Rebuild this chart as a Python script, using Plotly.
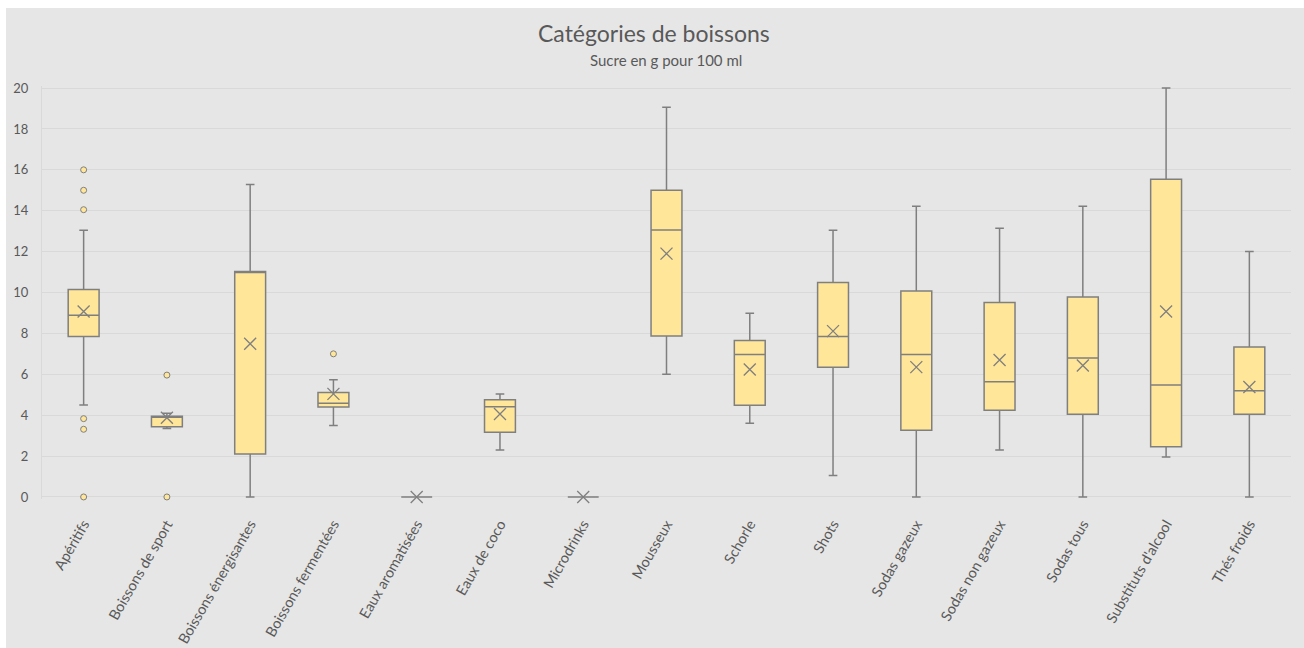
import plotly.graph_objects as go

# Sugar content per drink category (g per 100 ml)
categories = [
    "Apéritifs", "Boissons de sport", "Boissons énergisantes", "Boissons fermentées",
    "Eaux aromatisées", "Eaux de coco", "Microdrinks", "Mousseux", "Schorle", "Shots",
    "Sodas gazeux", "Sodas non gazeux", "Sodas tous", "Substituts d'alcool", "Thés froids",
]
lower_whisker = [4.5, 3.35, 0.0, 3.5, 0.0, 2.3, 0.0, 6.0, 3.6, 1.05, 0.0, 2.3, 0.0, 1.95, 0.0]
q1_values = [7.85, 3.43, 2.1, 4.4, 0.0, 3.17, 0.0, 7.87, 4.49, 6.35, 3.26, 4.24, 4.05, 2.46, 4.05]
median_values = [8.89, 3.95, 11.03, 4.58, 0.0, 4.41, 0.0, 13.06, 6.97, 7.85, 6.97, 5.63, 6.8, 5.47, 5.2]
q3_values = [10.15, 3.95, 11.03, 5.11, 0.0, 4.76, 0.0, 15.0, 7.65, 10.49, 10.07, 9.51, 9.78, 15.54, 7.33]
upper_whisker = [13.05, 4.09, 15.28, 5.73, 0.0, 5.03, 0.0, 19.06, 8.98, 13.04, 14.22, 13.14, 14.22, 20.0, 12.0]
mean_values = [9.07, 3.87, 7.49, 5.04, 0.0, 4.06, 0.0, 11.9, 6.23, 8.11, 6.35, 6.7, 6.43, 9.07, 5.38]

outlier_categories = [
    "Apéritifs", "Apéritifs", "Apéritifs", "Apéritifs", "Apéritifs", "Apéritifs",
    "Boissons de sport", "Boissons de sport", "Boissons fermentées",
]
outlier_values = [16.0, 15.0, 14.05, 3.83, 3.31, 0.0, 5.96, 0.0, 7.0]

y_ticks = [0, 2, 4, 6, 8, 10, 12, 14, 16, 18, 20]

FONT = "Lato"
TEXT = "#595959"
BG = "#e6e6e6"
GRID = "#d9d9d9"
EDGE = "#7f7f7f"
FILL = "#ffe699"

# plot-area geometry in pixels
W, H = 1304, 648
ML, MR, MT, MB = 42, 12.5, 86, 148.7
PW = W - ML - MR
PH = H - MT - MB


def px_x(x):
    return (x - ML) / PW


def px_y(y):
    return 1 + (MT - y) / PH


fig = go.Figure()

fig.add_trace(go.Box(
    x=categories,
    q1=q1_values,
    median=median_values,
    q3=q3_values,
    lowerfence=lower_whisker,
    upperfence=upper_whisker,
    fillcolor=FILL,
    line=dict(color=EDGE, width=1.5),
    whiskerwidth=0.28,
    boxpoints=False,
    hoverinfo="skip",
    showlegend=False,
))

fig.add_trace(go.Scatter(
    x=categories,
    y=mean_values,
    mode="markers",
    marker=dict(symbol="x-thin-open", size=12, color=EDGE, line=dict(color=EDGE, width=1.3)),
    cliponaxis=False,
    showlegend=False,
))

fig.add_trace(go.Scatter(
    x=outlier_categories,
    y=outlier_values,
    mode="markers",
    marker=dict(symbol="circle", size=6, color=FILL, line=dict(color=EDGE, width=1)),
    cliponaxis=False,
    showlegend=False,
))

# thin white margin along the top and left edges of the page
fig.add_shape(type="rect", xref="paper", yref="paper", layer="below",
              x0=px_x(-5), x1=px_x(W + 5), y0=px_y(8), y1=px_y(-5),
              fillcolor="white", line_width=0)
fig.add_shape(type="rect", xref="paper", yref="paper", layer="below",
              x0=px_x(-5), x1=px_x(6), y0=px_y(H + 5), y1=px_y(-5),
              fillcolor="white", line_width=0)

fig.update_layout(
    width=W,
    height=H,
    margin=dict(l=ML, r=MR, t=MT, b=MB, autoexpand=False),
    paper_bgcolor=BG,
    plot_bgcolor=BG,
    font=dict(family=FONT, color=TEXT, size=13),
    annotations=[
        dict(text="Catégories de boissons", xref="paper", yref="paper",
             x=px_x(654), y=px_y(33), xanchor="center", yanchor="middle",
             showarrow=False, font=dict(family=FONT, size=23, color=TEXT)),
        dict(text="Sucre en g pour 100 ml", xref="paper", yref="paper",
             x=px_x(666), y=px_y(60), xanchor="center", yanchor="middle",
             showarrow=False, font=dict(family=FONT, size=15, color=TEXT)),
    ],
    xaxis=dict(
        type="category",
        range=[-0.5, 14.5],
        tickangle=-60,
        showgrid=False,
        showline=False,
        ticks="",
        automargin=False,
        ticklabelstandoff=13,
        tickfont=dict(family=FONT, size=14.5, color=TEXT),
    ),
    yaxis=dict(
        range=[-0.1, 20.1],
        tickvals=y_ticks,
        showgrid=True,
        gridcolor=GRID,
        gridwidth=1,
        zeroline=True,
        zerolinecolor=GRID,
        zerolinewidth=1,
        showline=True,
        linecolor=GRID,
        ticks="",
        automargin=False,
        ticklabelstandoff=10,
        tickfont=dict(family=FONT, size=13, color=TEXT),
    ),
    boxgap=0.47,
)

fig.write_html("out.html")
